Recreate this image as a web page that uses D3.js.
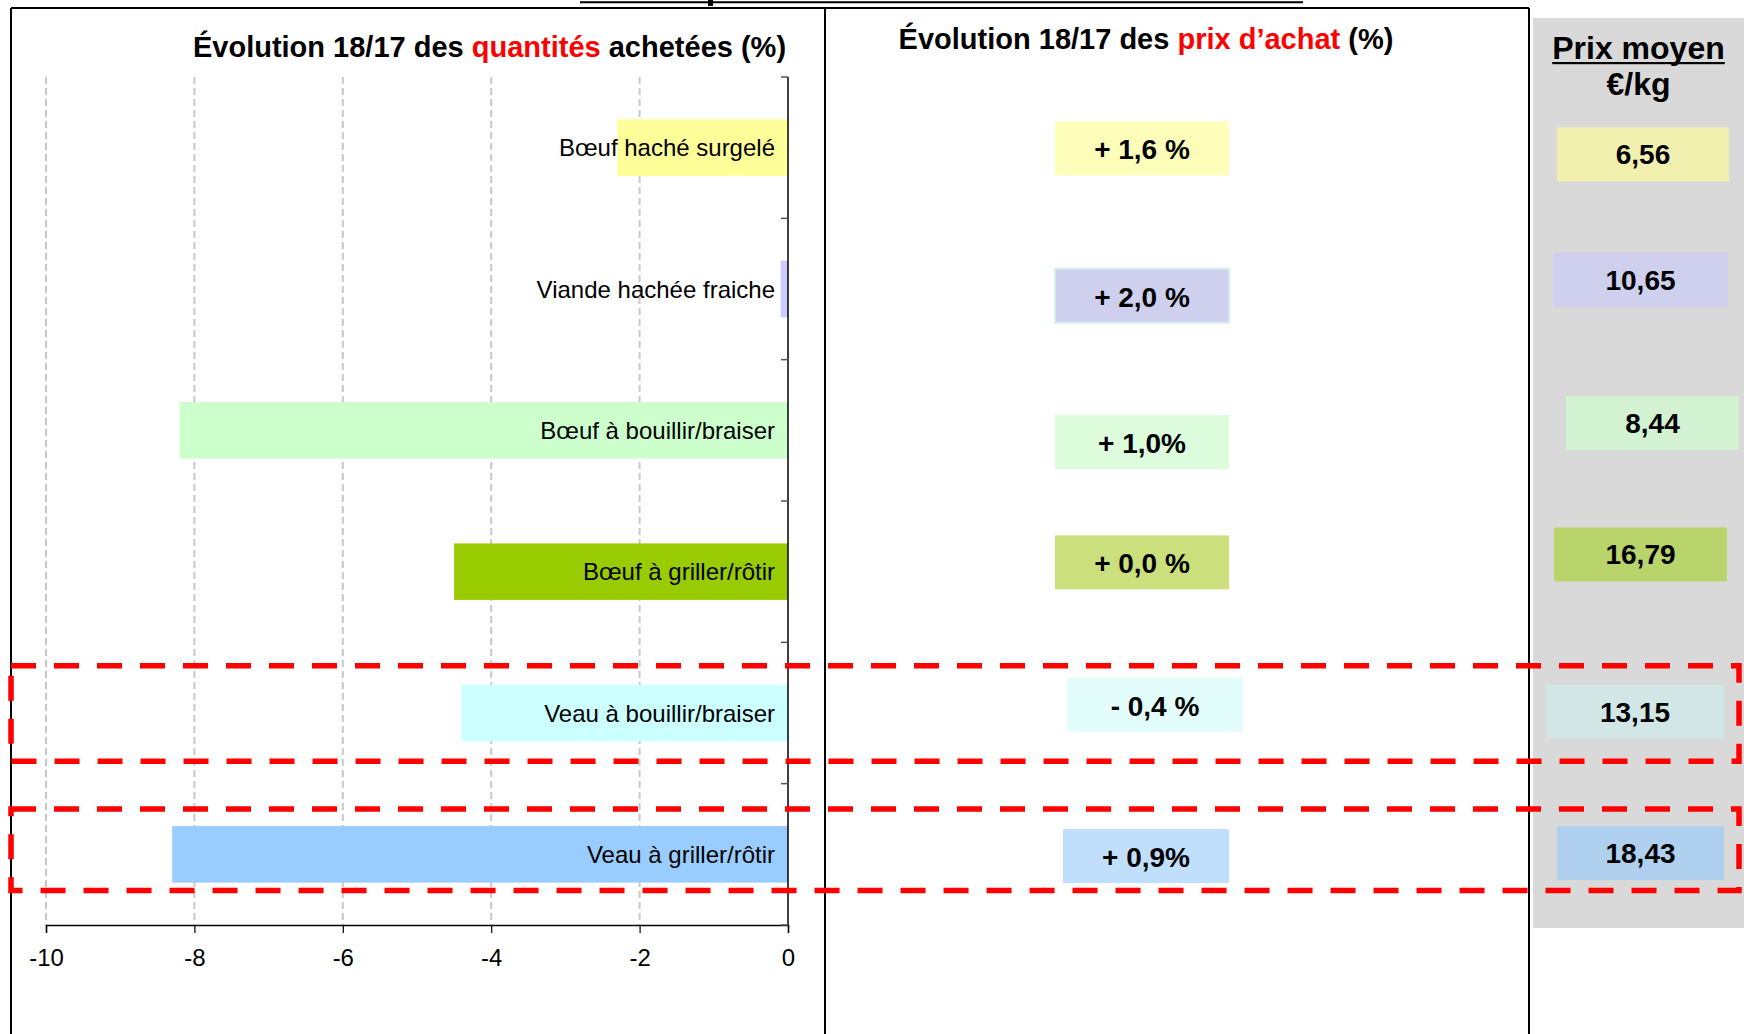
<!DOCTYPE html>
<html lang="fr">
<head>
<meta charset="utf-8">
<script src="https://cdn.jsdelivr.net/npm/d3@7"></script>
<style>
  html, body { margin: 0; padding: 0; background: #fff; }
  svg { display: block; font-family: "Liberation Sans", Arial, sans-serif; }
</style>
</head>
<body>
<script>
// Rows of the table, top to bottom
const categories = [
  "Bœuf haché surgelé",
  "Viande hachée fraiche",
  "Bœuf à bouillir/braiser",
  "Bœuf à griller/rôtir",
  "Veau à bouillir/braiser",
  "Veau à griller/rôtir"
];
// Change in purchased quantities 2018/2017 (%)
const quantityChange = [-2.3, -0.1, -8.2, -4.5, -4.4, -8.3];
// Change in purchase price 2018/2017 (%)
const priceChange = [1.6, 2.0, 1.0, 0.0, -0.4, 0.9];
const priceLabels = ["+ 1,6 %", "+ 2,0 %", "+ 1,0%", "+ 0,0 %", "- 0,4 %", "+ 0,9%"];
// Average price, €/kg
const avgPrice = [6.56, 10.65, 8.44, 16.79, 13.15, 18.43];
// Quantity axis ticks
const xTicks = [-10, -8, -6, -4, -2, 0];
// Rows framed in red
const highlighted = ["Veau à bouillir/braiser", "Veau à griller/rôtir"];

// Colours per row
const barColors   = ["#ffff99", "#ccccff", "#ccffcc", "#99cc00", "#ccffff", "#99ccff"];
const priceColors = ["#fefebb", "#cfcfee", "#dcfcdc", "#cbe07c", "#e3fdfd", "#bfdffd"];
const avgColors   = ["#f2f0ae", "#cfcfee", "#d2f2d2", "#b9d46b", "#d3e6e6", "#b0d0f0"];

// Hand placement of the annotation boxes (offsets from the row band)
const priceBoxLayout = [
  { cx: 1142, w: 174, dy: 2 }, { cx: 1142, w: 174, dy: 8 }, { cx: 1142, w: 174, dy: 13 },
  { cx: 1142, w: 174, dy: -8 }, { cx: 1155, w: 176, dy: -7 }, { cx: 1146, w: 166, dy: 3 }
];
const avgBoxLayout = [
  { cx: 1643, w: 172, dy: 8 }, { cx: 1640.5, w: 175, dy: -8 }, { cx: 1652.5, w: 173, dy: -6 },
  { cx: 1640.5, w: 173, dy: -16 }, { cx: 1635, w: 178, dy: 0 }, { cx: 1640.5, w: 167, dy: 0 }
];
const highlightPad = [{ top: 19, bottom: 20 }, { top: 17, bottom: 8 }];

const W = 1744, H = 1034;
const svg = d3.select("body").append("svg")
  .attr("width", W).attr("height", H)
  .attr("viewBox", `0 0 ${W} ${H}`);

const x = d3.scaleLinear().domain([-10, 0]).range([46, 788]);
const y = d3.scaleBand().domain(categories).range([77, 925])
  .paddingInner(0.6).paddingOuter(0.3);

const frLocale = d3.formatLocale({ decimal: ",", thousands: " ", grouping: [3], currency: ["", " €"] });
const fmtPrice = frLocale.format(".2f");

// Grey background of the average price column
svg.append("rect").attr("x", 1533).attr("y", 18).attr("width", W - 1533).attr("height", 910)
  .attr("fill", "#d9d9d9");

// Remains of the page heading above the table
svg.append("line").attr("x1", 580).attr("x2", 1303).attr("y1", 2.3).attr("y2", 2.3)
  .attr("stroke", "#000").attr("stroke-width", 2);
svg.append("rect").attr("x", 708).attr("y", 0).attr("width", 5).attr("height", 6).attr("fill", "#000");

// ---- Left panel: quantities ----
const gLeft = svg.append("g");

// dashed vertical gridlines
gLeft.selectAll("line.grid").data(xTicks.filter(d => d < 0)).join("line")
  .attr("class", "grid")
  .attr("x1", d => x(d)).attr("x2", d => x(d))
  .attr("y1", y.range()[0]).attr("y2", y.range()[1])
  .attr("stroke", "#c8c8c8").attr("stroke-width", 2).attr("stroke-dasharray", "7,4");

// bars
gLeft.selectAll("rect.bar").data(categories).join("rect")
  .attr("class", "bar")
  .attr("x", (d, i) => x(quantityChange[i]))
  .attr("y", d => y(d))
  .attr("width", (d, i) => x(0) - x(quantityChange[i]))
  .attr("height", y.bandwidth())
  .attr("fill", (d, i) => barColors[i]);

// category labels inside the bars
gLeft.selectAll("text.cat").data(categories).join("text")
  .attr("class", "cat")
  .attr("x", x(0) - 13)
  .attr("y", d => y(d) + y.bandwidth() / 2 + 8.5)
  .attr("text-anchor", "end")
  .attr("font-size", 24)
  .attr("fill", "#000")
  .text(d => d);

// bottom value axis
const xAxis = d3.axisBottom(x).tickValues(xTicks).tickSize(8).tickPadding(16)
  .tickFormat(d3.format("d"));
const gx = gLeft.append("g").attr("transform", `translate(0,${y.range()[1]})`).call(xAxis);
gx.select(".domain").attr("stroke", "#000").attr("stroke-width", 1.5);
gx.selectAll(".tick line").attr("stroke", "#000").attr("stroke-width", 1.2);
gx.selectAll(".tick text").attr("font-size", 24).attr("font-family", "Liberation Sans, Arial, sans-serif")
  .attr("fill", "#000").text(d => d === 0 ? "0" : "-" + Math.abs(d));

// category axis at zero, with ticks between the rows
gLeft.append("line")
  .attr("x1", x(0)).attr("x2", x(0)).attr("y1", y.range()[0]).attr("y2", y.range()[1])
  .attr("stroke", "#000").attr("stroke-width", 1.5);
gLeft.selectAll("line.ytick").data(d3.range(categories.length + 1)).join("line")
  .attr("class", "ytick")
  .attr("x1", x(0) - 7).attr("x2", x(0))
  .attr("y1", i => y.range()[0] + i * y.step())
  .attr("y2", i => y.range()[0] + i * y.step())
  .attr("stroke", "#555").attr("stroke-width", 1.5);

// panel title
const t1 = svg.append("text").attr("x", 489.5).attr("y", 57).attr("text-anchor", "middle")
  .attr("font-size", 29).attr("font-weight", "bold").attr("fill", "#000");
t1.append("tspan").text("Évolution 18/17 des ");
t1.append("tspan").attr("fill", "#ff0000").text("quantités");
t1.append("tspan").text(" achetées (%)");

// ---- Middle panel: purchase price change ----
const t2 = svg.append("text").attr("x", 1146).attr("y", 49).attr("text-anchor", "middle")
  .attr("font-size", 29).attr("font-weight", "bold").attr("fill", "#000");
t2.append("tspan").text("Évolution 18/17 des ");
t2.append("tspan").attr("fill", "#ff0000").text("prix d’achat");
t2.append("tspan").text(" (%)");

const BOX_H = 54;
const gPrice = svg.append("g");
const priceRows = gPrice.selectAll("g").data(categories).join("g")
  .attr("transform", (d, i) => `translate(${priceBoxLayout[i].cx},${y(d) + priceBoxLayout[i].dy})`);
priceRows.append("rect")
  .attr("x", (d, i) => -priceBoxLayout[i].w / 2).attr("y", 0)
  .attr("width", (d, i) => priceBoxLayout[i].w).attr("height", BOX_H)
  .attr("fill", (d, i) => priceColors[i])
  .attr("stroke", (d, i) => i === 1 ? "#d8ecec" : "none").attr("stroke-width", 2);
priceRows.append("text")
  .attr("x", 0).attr("y", 38).attr("text-anchor", "middle")
  .attr("font-size", 28).attr("font-weight", "bold").attr("fill", "#000")
  .text((d, i) => priceLabels[i]);

// ---- Right panel: average price ----
const t3 = svg.append("text").attr("x", 1638.5).attr("y", 59).attr("text-anchor", "middle")
  .attr("font-size", 32).attr("font-weight", "bold").attr("fill", "#000").text("Prix moyen");
const tw = t3.node().getComputedTextLength();
svg.append("rect").attr("x", 1638.5 - tw / 2).attr("y", 62).attr("width", tw).attr("height", 2.2)
  .attr("fill", "#000");
svg.append("text").attr("x", 1638.5).attr("y", 95).attr("text-anchor", "middle")
  .attr("font-size", 32).attr("font-weight", "bold").attr("fill", "#000").text("€/kg");

const gAvg = svg.append("g");
const avgRows = gAvg.selectAll("g").data(categories).join("g")
  .attr("transform", (d, i) => `translate(${avgBoxLayout[i].cx},${y(d) + avgBoxLayout[i].dy})`);
avgRows.append("rect")
  .attr("x", (d, i) => -avgBoxLayout[i].w / 2).attr("y", 0)
  .attr("width", (d, i) => avgBoxLayout[i].w).attr("height", BOX_H)
  .attr("fill", (d, i) => avgColors[i]);
avgRows.append("text")
  .attr("x", 0).attr("y", 37).attr("text-anchor", "middle")
  .attr("font-size", 28).attr("font-weight", "bold").attr("fill", "#000")
  .text((d, i) => fmtPrice(avgPrice[i]));

// ---- Table frame ----
const frame = svg.append("g").attr("stroke", "#000").attr("stroke-width", 2).attr("fill", "none");
frame.append("line").attr("x1", 11).attr("x2", 1529).attr("y1", 8).attr("y2", 8);
[11, 825, 1529].forEach(xx => {
  frame.append("line").attr("x1", xx).attr("x2", xx).attr("y1", 8).attr("y2", H);
});

// ---- Red dashed frames around the veal rows ----
svg.selectAll("rect.hl").data(highlighted).join("rect")
  .attr("class", "hl")
  .attr("x", 11)
  .attr("y", (d, i) => y(d) - highlightPad[i].top)
  .attr("width", 1739 - 11)
  .attr("height", (d, i) => y.bandwidth() + highlightPad[i].top + highlightPad[i].bottom)
  .attr("fill", "none").attr("stroke", "#ff0000").attr("stroke-width", 5.5)
  .attr("stroke-dasharray", "25,18");
</script>
</body>
</html>
